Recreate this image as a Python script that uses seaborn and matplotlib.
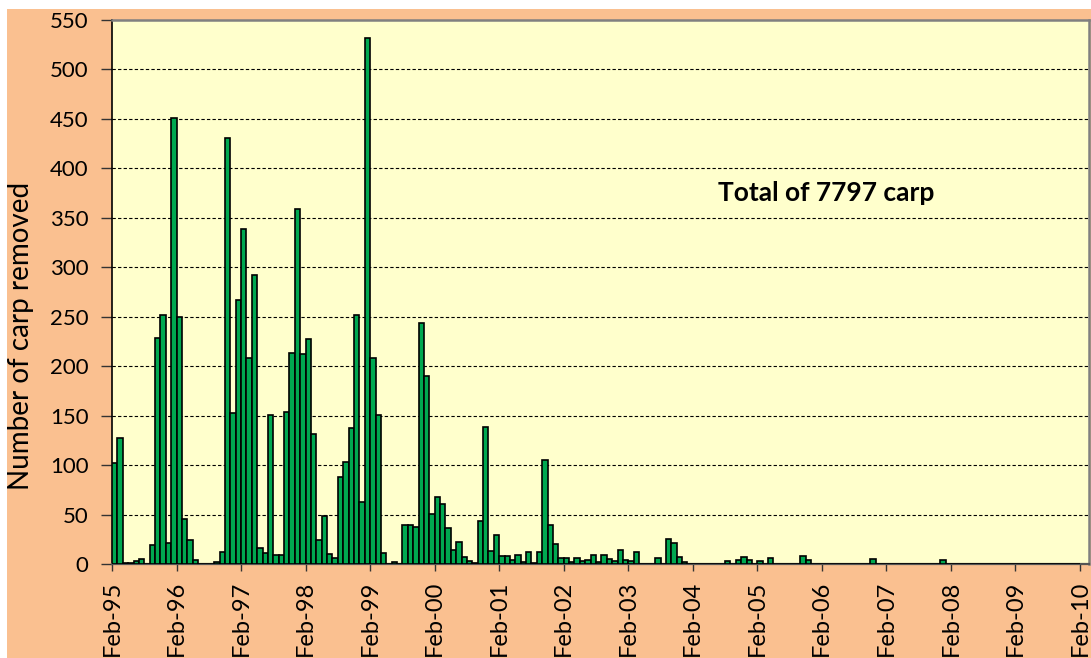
import numpy as np
import pandas as pd
import matplotlib
matplotlib.use("Agg")
import matplotlib.pyplot as plt
from matplotlib.patches import Rectangle
import seaborn as sns

# Monthly carp removals, one list per season (Feb of year .. Jan of next year)
season_1995 = [102, 127, 1, 1, 3, 5, 0, 19, 228, 252, 21, 451]
season_1996 = [250, 45, 24, 4, 0, 0, 0, 2, 12, 431, 153, 267]
season_1997 = [339, 208, 292, 16, 11, 151, 9, 9, 154, 213, 359, 212]
season_1998 = [227, 131, 24, 49, 10, 6, 88, 103, 138, 252, 63, 532]
season_1999 = [208, 151, 11, 0, 2, 0, 39, 39, 37, 244, 190, 51]
season_2000 = [68, 61, 36, 14, 22, 7, 3, 1, 43, 139, 13, 29]
season_2001 = [8, 8, 4, 9, 2, 12, 1, 12, 105, 39, 20, 6]
season_2002 = [6, 2, 6, 3, 4, 9, 2, 9, 5, 3, 14, 4]
season_2003 = [3, 12, 0, 0, 0, 6, 0, 25, 21, 7, 2, 0]
season_2004 = [0, 0, 0, 0, 0, 0, 3, 0, 4, 7, 4, 0]
season_2005 = [3, 0, 6, 0, 0, 0, 0, 0, 8, 4, 0, 0]
season_2006 = [0, 0, 0, 0, 0, 0, 0, 0, 0, 5, 0, 0]
season_2007 = [0, 0, 0, 0, 0, 0, 0, 0, 0, 0, 4, 0]
season_2008 = [0] * 12
season_2009 = [0] * 12

tick_labels = ["Feb-95", "Feb-96", "Feb-97", "Feb-98", "Feb-99", "Feb-00",
               "Feb-01", "Feb-02", "Feb-03", "Feb-04", "Feb-05", "Feb-06",
               "Feb-07", "Feb-08", "Feb-09", "Feb-10"]
y_ticks = list(range(0, 551, 50))
total_label = "Total of 7797 carp"

counts = (season_1995 + season_1996 + season_1997 + season_1998 + season_1999
          + season_2000 + season_2001 + season_2002 + season_2003 + season_2004
          + season_2005 + season_2006 + season_2007 + season_2008 + season_2009)
df = pd.DataFrame({"month": np.arange(len(counts)), "carp": counts})

sns.set_theme(style="ticks")
plt.rcParams["font.family"] = ["Lato", "DejaVu Sans"]

W, H = 1091, 658
fig = plt.figure(figsize=(W / 100, H / 100), dpi=100, facecolor="white")

# peach chart-area backdrop, inset slightly from the top/left edges
fig.patches.append(Rectangle((7 / W, 0), 1 - 7 / W, 1 - 9 / H,
                             transform=fig.transFigure, facecolor="#FAC090",
                             edgecolor="none", zorder=-10))

left, right, top, bottom = 112, 1089, 20, 564
ax = fig.add_axes([left / W, 1 - bottom / H, (right - left) / W, (bottom - top) / H])
ax.set_zorder(1)
ax.set_facecolor("#FFFFCC")

sns.barplot(data=df, x="month", y="carp", ax=ax, color="#00A850",
            saturation=1, width=1.0, edgecolor="black", linewidth=1.2,
            zorder=3)

month_px = (1080 - left) / 180.0
ax.set_xlim(-0.5, (right - left) / month_px - 0.5)
ax.set_ylim(0, 550)

ax.set_yticks(y_ticks)
ax.set_yticklabels([str(v) for v in y_ticks])
ax.set_xticks([12 * k - 0.5 for k in range(len(tick_labels))])
ax.set_xticklabels(tick_labels, rotation=90, va="top", ha="center")

for v in y_ticks[1:-1]:
    ax.axhline(v, color="black", linewidth=0.8, linestyle=(0, (3, 2)), zorder=1)

ax.tick_params(axis="y", direction="out", length=8, width=1, color="#333333",
               pad=9, labelsize=16, labelcolor="black")
ax.tick_params(axis="x", direction="out", length=5, width=1, color="#333333",
               pad=7, labelsize=17, labelcolor="black")

for side in ("top", "right"):
    ax.spines[side].set_visible(True)
    ax.spines[side].set_color("#808080")
    ax.spines[side].set_linewidth(1.8)
ax.spines["left"].set_color("black")
ax.spines["left"].set_linewidth(1.2)
ax.spines["bottom"].set_color("#555555")
ax.spines["bottom"].set_linewidth(1.6)

ax.set_xlabel("")
ax.set_ylabel("Number of carp removed", fontsize=20, color="black", va="center")
ax.yaxis.set_label_coords((21 - left) / (right - left), (bottom - 336) / (bottom - top))

ax.text(132.3, 375, total_label, fontsize=19, fontweight="bold",
        ha="center", va="center", color="black", zorder=5)

fig.savefig("out.png", dpi=100, facecolor=fig.get_facecolor())
